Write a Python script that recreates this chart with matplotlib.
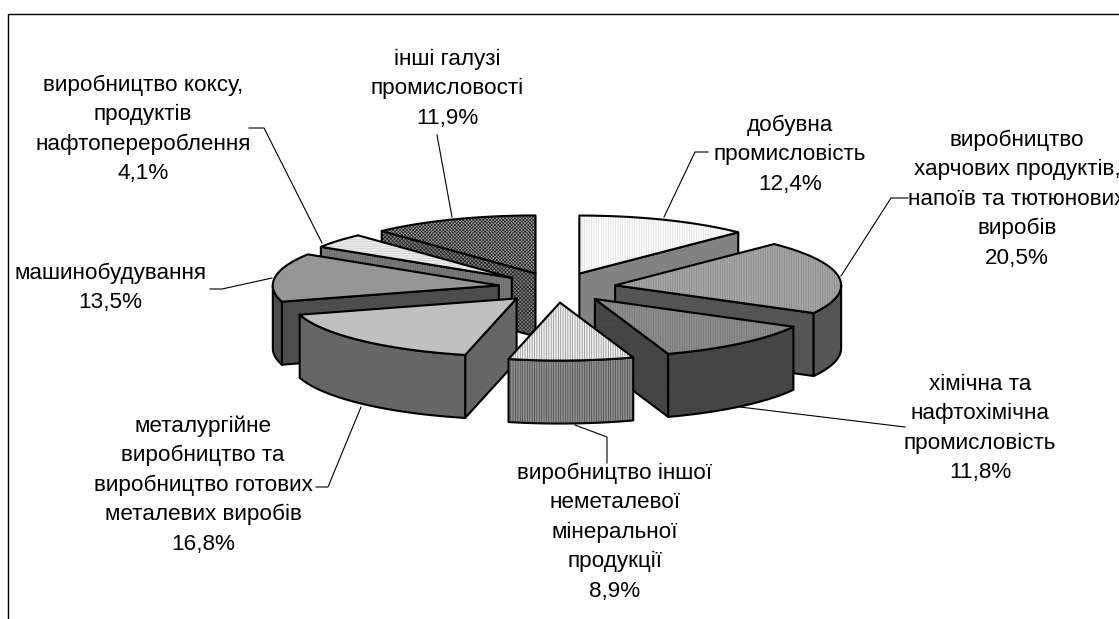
import numpy as np
import matplotlib
matplotlib.use("Agg")
import matplotlib.pyplot as plt
from matplotlib.patches import Polygon

plt.rcParams['font.family'] = ['Liberation Sans', 'DejaVu Sans']
plt.rcParams['hatch.linewidth'] = 0.5

categories = ["добувна\nпромисловість",
              "виробництво\nхарчових продуктів,\nнапоїв та тютюнових\nвиробів",
              "хімічна та\nнафтохімічна\nпромисловість",
              "виробництво іншої\nнеметалевої\nмінеральної\nпродукції",
              "металургійне\nвиробництво та\nвиробництво готових\nметалевих виробів",
              "машинобудування",
              "виробництво коксу,\nпродуктів\nнафтоперероблення",
              "інші галузі\nпромисловості"]
values = [12.4, 20.5, 11.8, 8.9, 16.8, 13.5, 4.1, 11.9]

# styles
top_fc = ['#fbfbfb', '#a6a6a6', '#8c8c8c', '#f0f0f0', '#c0c0c0', '#969696', '#ececec', '#a8a8a8']
top_hc = ['#dddddd', '#888888', '#777777', '#888888', '#c0c0c0', '#969696', '#cccccc', '#222222']
top_ht = ['|||||||', '|||||||', '|||||||', '|||||||', None, None, '-------', 'xxxxxxxxxx']
wall_fc = ['#828282', '#555555', '#484848', '#909090', '#666666', '#4d4d4d', '#7a7a7a', '#808080']
wall_hc = ['#777777', '#4a4a4a', '#404040', '#444444', '#666666', '#4d4d4d', '#666666', '#222222']
wall_ht = [None, None, '-------', '|||||||', None, None, '|||||||', 'xxxxxxxxx']
draw_order = [7, 6, 5, 4, 0, 1, 2, 3]

# layout in pixels
CX, CY = 557.0, 287.5
RX, RY = 226.0, 58.0
EXPLODE = 0.26
DEPTH = 63.0
LW = 1.5

# label centres (x, first line y) and leaders
label_pos = [(790, 125), (1017, 140), (980, 384), (615, 473), (203, 426), (110, 273), (143, 85), (447, 59)]
leaders = [[(664, 217), (695, 152), (708, 152)],
           [(841, 276), (891, 198), (908, 198)],
           [(740, 407), (905, 427)],
           [(575, 425), (607, 437), (607, 463)],
           [(361, 407), (328, 487), (316, 487)],
           [(272, 278), (222, 289), (210, 289)],
           [(322, 243), (264, 128), (249, 128)],
           [(452, 217), (437, 135)]]
LINE_H = 29.6

fig = plt.figure(figsize=(11.19, 6.19), dpi=100, facecolor='white')
ax = fig.add_axes([0, 0, 1, 1])
ax.set_xlim(0, 1119)
ax.set_ylim(619, 0)
ax.axis('off')

# frame (open at the right and bottom)
ax.plot([7.5, 7.5, 1119], [619, 14, 14], color='black', lw=1.0, solid_joinstyle='miter')

total = sum(values)
edges = np.concatenate([[0], np.cumsum(values)]) / total * 360.0


def pt(ox, oy, theta):
    t = np.radians(theta)
    return ox + RX * np.sin(t), oy - RY * np.cos(t)


def shape(verts, fc, hc, ht, z):
    ax.add_patch(Polygon(verts, closed=True, facecolor=fc, edgecolor=hc, hatch=ht, lw=0, zorder=z))
    ax.add_patch(Polygon(verts, closed=True, facecolor='none', edgecolor='black', lw=LW,
                         joinstyle='round', zorder=z))


for rank, i in enumerate(draw_order):
    a0, a1 = edges[i], edges[i + 1]
    mid = np.radians((a0 + a1) / 2)
    ox = CX + EXPLODE * RX * np.sin(mid)
    oy = CY - EXPLODE * RY * np.cos(mid)
    th = np.linspace(a0, a1, 60)
    ax_pts = [pt(ox, oy, t) for t in th]
    z = 2 + rank

    # radial walls facing the viewer
    visible = [a for a, show in ((a0, np.sin(np.radians(a0)) < -1e-6),
                                 (a1, np.sin(np.radians(a1)) > 1e-6)) if show]
    for a in visible:
        px, py = pt(ox, oy, a)
        shape([(ox, oy), (px, py), (px, py + DEPTH), (ox, oy + DEPTH)],
              wall_fc[i], wall_hc[i], wall_ht[i], z)
    # outer wall, front part only
    lo, hi = max(a0, 90.0), min(a1, 270.0)
    if hi > lo:
        arc = [pt(ox, oy, t) for t in np.linspace(lo, hi, 60)]
        low = [(x, y + DEPTH) for x, y in arc[::-1]]
        shape(arc + low, wall_fc[i], wall_hc[i], wall_ht[i], z)
    # top
    shape([(ox, oy)] + ax_pts, top_fc[i], top_hc[i], top_ht[i], z)

for line in leaders:
    xs, ys = zip(*line)
    ax.plot(xs, ys, color='black', lw=0.8, zorder=1)

for name, v, (x, y) in zip(categories, values, label_pos):
    rows = name.split("\n") + [f"{v:.1f}%".replace(".", ",")]
    for k, r in enumerate(rows):
        ax.text(x, y + k * LINE_H, r, ha='center', va='center', fontsize=16.2, color='black', zorder=30)

fig.savefig('out.png', dpi=100)
